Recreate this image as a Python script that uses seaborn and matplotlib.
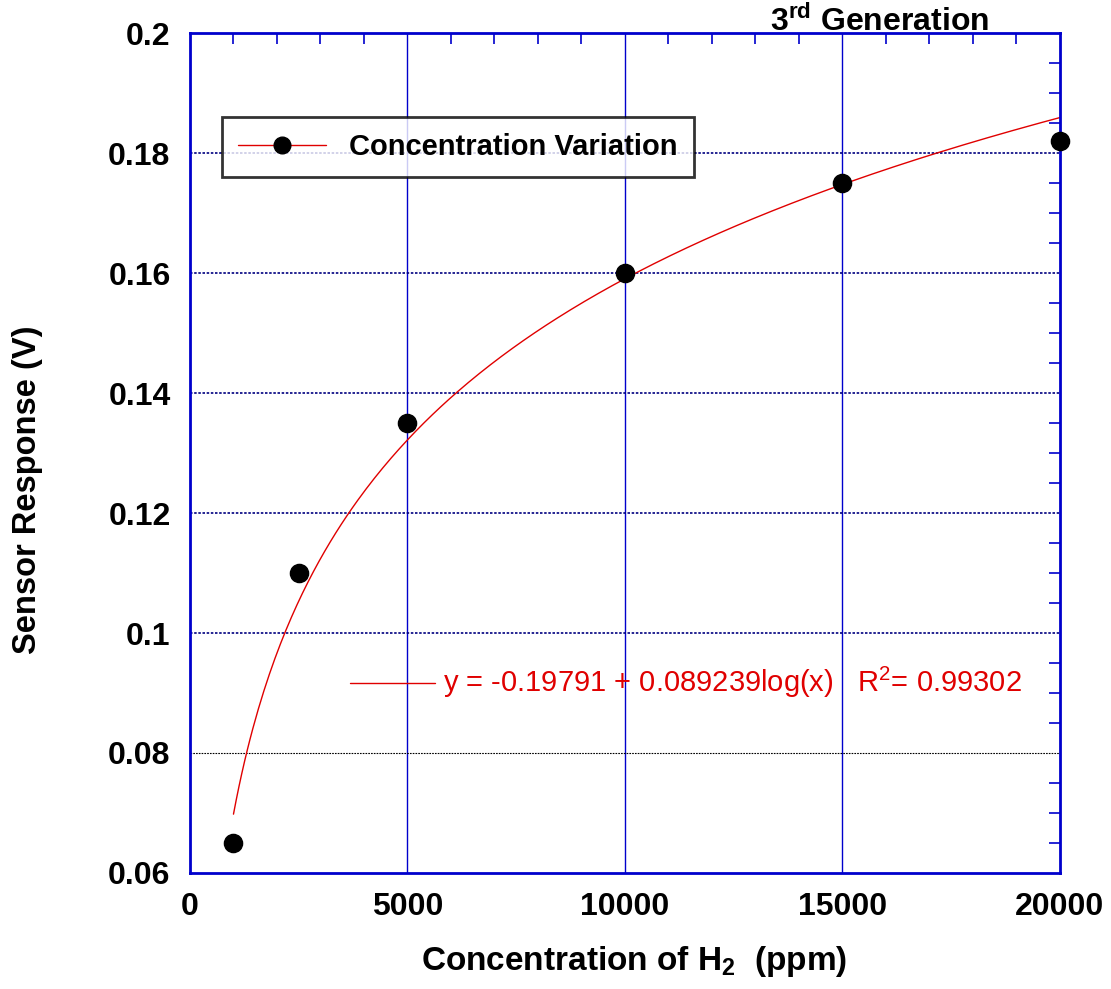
import numpy as np
import pandas as pd
import matplotlib
matplotlib.use("Agg")
import matplotlib.pyplot as plt
from matplotlib.lines import Line2D
from matplotlib.ticker import MultipleLocator
import seaborn as sns

# -------------------------
# Data
# -------------------------
conc_ppm = [1000, 2500, 5000, 10000, 15000, 20000]
response_v = [0.065, 0.11, 0.135, 0.16, 0.175, 0.182]

# log fit coefficients printed on the chart
fit_a = -0.19791
fit_b = 0.089239
fit_r2 = 0.99302

df = pd.DataFrame({"conc": conc_ppm, "resp": response_v})
x_fit = np.linspace(min(conc_ppm), max(conc_ppm), 300)
fit_df = pd.DataFrame({"conc": x_fit, "resp": fit_a + fit_b * np.log10(x_fit)})

# -------------------------
# Style
# -------------------------
sns.set_style("white")
plt.rcParams['font.family'] = ['Liberation Sans', 'DejaVu Sans']
plt.rcParams['mathtext.fontset'] = 'custom'
plt.rcParams['mathtext.rm'] = 'Liberation Sans'
plt.rcParams['mathtext.bf'] = 'Liberation Sans:bold'
plt.rcParams['text.color'] = 'black'
plt.rcParams['axes.labelcolor'] = 'black'

BLUE = '#0000cc'
RED = '#e00000'

fig = plt.figure(figsize=(11.11, 9.89), dpi=100)
ax = fig.add_axes([0.171, 0.1173, 0.783, 0.8493])

# grid lines
for gx in [5000, 10000, 15000]:
    ax.axvline(gx, color=BLUE, lw=1.0, zorder=1)
for gy in [0.1, 0.12, 0.14, 0.16, 0.18]:
    ax.axhline(gy, color='#000080', lw=1.2, ls=(0, (1.5, 1)), zorder=1)
ax.axhline(0.08, color='black', lw=0.8, ls=(0, (1.5, 1)), zorder=1)

sns.lineplot(data=fit_df, x="conc", y="resp", color=RED, lw=1.0, ax=ax, zorder=2)
sns.scatterplot(data=df, x="conc", y="resp", color='black', s=170, edgecolor='black',
                ax=ax, zorder=3, clip_on=False)

ax.set_xlim(0, 20000)
ax.set_ylim(0.06, 0.2)
ax.xaxis.set_major_locator(MultipleLocator(5000))
ax.xaxis.set_minor_locator(MultipleLocator(1000))
ax.yaxis.set_major_locator(MultipleLocator(0.02))
ax.yaxis.set_minor_locator(MultipleLocator(0.005))
ax.set_yticklabels([f"{v:g}" for v in ax.get_yticks()])

ax.tick_params(which='both', direction='in', top=True, right=True, color=BLUE,
               labelcolor='black')
ax.tick_params(which='major', length=0, labelsize=23, pad=14)
ax.tick_params(which='minor', length=8, width=1.2)
for lab in ax.get_xticklabels() + ax.get_yticklabels():
    lab.set_fontweight('bold')

for sp in ax.spines.values():
    sp.set_color(BLUE)
    sp.set_linewidth(2)

ax.set_xlabel(r"Concentration of H$_{\mathbf{2}}$  (ppm)", fontsize=24,
              fontweight='bold')
ax.set_ylabel("Sensor Response (V)", fontsize=23.5, fontweight='bold')
ax.xaxis.set_label_coords(0.511, -0.085)
ax.yaxis.set_label_coords(-0.169, 0.456)

# legend
handle = Line2D([], [], color=RED, lw=1.0, marker='o', markersize=12,
                markerfacecolor='black', markeredgecolor='black')
leg = ax.legend([handle], ["Concentration Variation"], loc='upper left',
                bbox_to_anchor=(0.037, 0.9), prop={'size': 21, 'weight': 'bold'},
                fancybox=False, frameon=True, handlelength=3.0, borderpad=0.55,
                borderaxespad=0)
leg.get_frame().set_edgecolor('black')
leg.get_frame().set_linewidth(2)

# fit equation annotation
ax.plot([3680, 5630], [0.0917, 0.0917], color=RED, lw=1.0)
ax.text(5820, 0.0917,
        r"y = -0.19791 + 0.089239log(x)   R$^2$= " + f"{fit_r2:.5f}",
        color=RED, fontsize=21, va='center', ha='left')

fig.text(0.792, 0.978, r"3$^{\mathbf{rd}}$ Generation", fontsize=23,
         fontweight='bold', ha='center', va='center')

fig.savefig("out.png", dpi=100)
